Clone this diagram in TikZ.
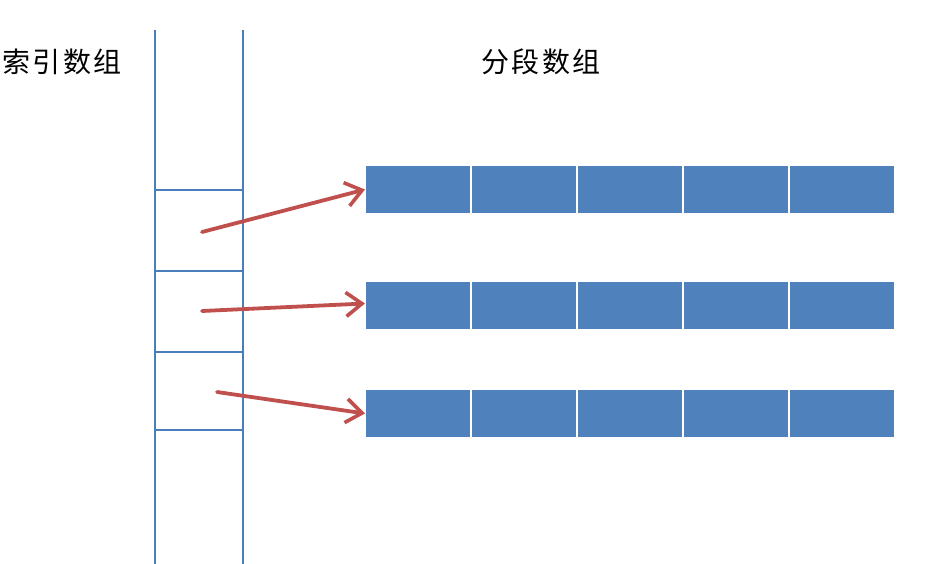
\documentclass[tikz,border=0pt]{standalone}
\usepackage{fontspec}
\newfontfamily\cjk[LetterSpace=8]{Noto Sans CJK SC}
\usetikzlibrary{arrows.meta}
\definecolor{cellblue}{HTML}{4F81BD}
\definecolor{idxline}{HTML}{4A7EBB}
\definecolor{arrred}{HTML}{C0504D}
\tikzset{
  cell/.style={draw=white, line width=1.2pt, fill=cellblue, minimum width=106pt, minimum height=48pt, inner sep=0pt, outer sep=0pt, anchor=north west},
  idx/.style={draw=idxline, line width=1.3pt},
  ptr/.style={draw=arrred, line width=3.8pt, line cap=round, -{Straight Barb[length=16pt,width=24pt,line width=3.6pt]}},
  title/.style={font=\cjk\fontsize{28}{32}\selectfont, inner sep=0pt}
}
\begin{document}
\begin{tikzpicture}[x=1pt,y=-1pt]
\useasboundingbox (0,0) rectangle (925,564);
% titles
\node[title] (t1) at (62,62) {索引数组};
\node[title] (t2) at (541,62) {分段数组};
% index array
\draw[idx] (155,30) -- (155,564);
\draw[idx] (243,30) -- (243,564);
\foreach \y in {190,271,352,430} \draw[idx] (155,\y) -- (243,\y);
% segment rows
\foreach \r/\y in {1/165.5,2/281.5,3/389.5}{
  \foreach \c in {1,...,5}{
    \node[cell] (r\r c\c) at ({365+(\c-1)*106},\y) {};
  }
}
\coordinate (s1) at (202,232);
\coordinate (s2) at (202,311);
\coordinate (s3) at (217,392);
\draw[ptr] (s1) -- (r1c1.west);
\draw[ptr] (s2) -- ([yshift=2pt]r2c1.west);
\draw[ptr] (s3) -- (r3c1.west);
\end{tikzpicture}
\end{document}
